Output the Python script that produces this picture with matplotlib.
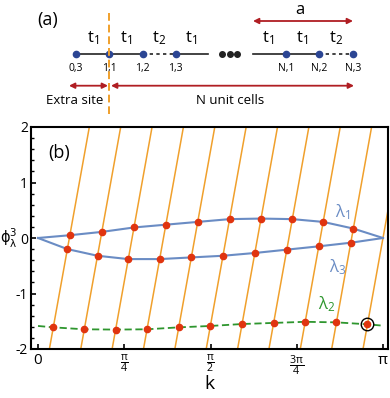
import numpy as np
import matplotlib
matplotlib.use('Agg')
import matplotlib.pyplot as plt

plt.rcParams['font.family'] = ['Open Sans', 'DejaVu Sans']
plt.rcParams['mathtext.fontset'] = 'custom'
plt.rcParams['mathtext.rm'] = 'Open Sans'
plt.rcParams['mathtext.it'] = 'Open Sans'
plt.rcParams['mathtext.sf'] = 'Open Sans'

# ---- data, panel (b) ----
N = 10
line_m = np.arange(1, 12)               # orange lines phi = (N+1)k - m*pi
lam1_m = np.arange(1, 11)
lam1_phi = [0.05, 0.11, 0.19, 0.24, 0.29, 0.34, 0.35, 0.34, 0.29, 0.17]
lam3_m = np.arange(1, 11)
lam3_phi = [-0.20, -0.32, -0.38, -0.38, -0.35, -0.32, -0.27, -0.21, -0.15, -0.085]
lam2_m = np.arange(1, 12)
lam2_phi = [-1.61, -1.645, -1.65, -1.645, -1.61, -1.585, -1.55, -1.53, -1.51, -1.52, -1.555]
lam1_ends = [0.0, 0.0]
lam3_ends = [0.0, 0.0]
lam2_ends = [-1.585, -1.58]

xticks = [0, np.pi / 4, np.pi / 2, 3 * np.pi / 4, np.pi]
xticklabels = ['0', r'$\frac{\pi}{4}$', r'$\frac{\pi}{2}$', r'$\frac{3\pi}{4}$', r'$\pi$']

# ---- schematic, panel (a) ----
site_x = [76, 109.3, 142.7, 175.7, 286, 319.3, 352.7]
site_lab = ['0,3', '1,1', '1,2', '1,3', 'N,1', 'N,2', 'N,3']
bond_x = [93, 126, 159, 191, 268, 302, 336]
bond_lab = ['t$_1$', 't$_1$', 't$_2$', 't$_1$', 't$_1$', 't$_1$', 't$_2$']

blue = '#6a8cc4'
orange = '#f0a02c'
red = '#e0340f'
green = '#2e962e'
navy = '#2b4593'
darkred = '#b01e23'


def k_of(m, phi):
    return (m * np.pi + np.asarray(phi)) / (N + 1)


fig = plt.figure(figsize=(3.9, 3.98), dpi=100)

# panel (a) drawn in pixel coords
axa = fig.add_axes([0, 0, 1, 1])
axa.set_xlim(0, 390)
axa.set_ylim(398, 0)
axa.axis('off')
axa.patch.set_alpha(0)

ys = 54.3
axa.plot([site_x[0], site_x[2]], [ys, ys], color='#222222', lw=1.2)
axa.plot([site_x[2], site_x[3]], [ys, ys], color='#222222', lw=1.2, ls=(0, (2, 2)))
axa.plot([site_x[3], 208], [ys, ys], color='#222222', lw=1.2)
axa.plot([253, site_x[5]], [ys, ys], color='#222222', lw=1.2)
axa.plot([site_x[5], site_x[6]], [ys, ys], color='#222222', lw=1.2, ls=(0, (2, 2)))
axa.plot([221.7, 229.5, 237.3], [ys, ys, ys], 'o', color='#222222', ms=4)
axa.plot(site_x, [ys] * len(site_x), 'o', color=navy, ms=4.5, zorder=3)
for x, s in zip(site_x, site_lab):
    axa.text(x, 69, s, ha='center', va='center', fontsize=7.5)
for x, s in zip(bond_x, bond_lab):
    axa.text(x, 38, s, ha='center', va='center', fontsize=12)
axa.plot([109.3, 109.3], [13, 114], color=orange, lw=1.4, ls=(0, (4, 2)), zorder=4)

arrow = dict(arrowstyle='<|-|>', color=darkred, lw=1.3, mutation_scale=8, shrinkA=0, shrinkB=0)
axa.annotate('', xy=(253, 21), xytext=(353, 21), arrowprops=arrow)
axa.annotate('', xy=(69, 85.7), xytext=(108, 85.7), arrowprops=arrow)
axa.annotate('', xy=(111, 85.7), xytext=(354, 85.7), arrowprops=arrow)
axa.text(300, 10, 'a', ha='center', va='center', fontsize=12)
axa.text(75, 101, 'Extra site', ha='center', va='center', fontsize=9.5)
axa.text(230, 101, 'N unit cells', ha='center', va='center', fontsize=9.5)
axa.text(48, 20, '(a)', ha='center', va='center', fontsize=13)
axa.text(0.5, 238, r'$\mathrm{\phi}_\mathrm{\lambda}^3$', ha='left', va='center',
         fontsize=10.5, math_fontfamily='dejavusans')
axa.text(209, 384, 'k', ha='center', va='center', fontsize=14)

# panel (b)
ax = fig.add_axes([31 / 390, 49 / 398, 357 / 390, 222 / 398])
x0 = -7 / 345 * np.pi
x1 = np.pi + 5 / 345 * np.pi
ax.set_xlim(x0, x1)
ax.set_ylim(-2, 2)

for m in line_m:
    ax.plot(k_of(m, np.array([-2.5, 2.5])), [-2.5, 2.5], color=orange, lw=1.1, zorder=1)

k1 = np.concatenate([[0], k_of(lam1_m, lam1_phi), [np.pi]])
p1 = np.concatenate([[lam1_ends[0]], lam1_phi, [lam1_ends[1]]])
k3 = np.concatenate([[0], k_of(lam3_m, lam3_phi), [np.pi]])
p3 = np.concatenate([[lam3_ends[0]], lam3_phi, [lam3_ends[1]]])
k2 = np.concatenate([[0], k_of(lam2_m, lam2_phi), [np.pi]])
p2 = np.concatenate([[lam2_ends[0]], lam2_phi, [lam2_ends[1]]])

ax.plot(k1, p1, color=blue, lw=1.5, zorder=2)
ax.plot(k3, p3, color=blue, lw=1.5, zorder=2)
ax.plot(k2, p2, color=green, lw=1.3, ls=(0, (4, 2)), zorder=2)

ax.plot(k1[1:-1], p1[1:-1], 'o', color=red, ms=4.5, zorder=3)
ax.plot(k3[1:-1], p3[1:-1], 'o', color=red, ms=4.5, zorder=3)
ax.plot(k2[1:-1], p2[1:-1], 'o', color=red, ms=4.5, zorder=3)
ax.plot(k2[-2], p2[-2], 'o', mfc='none', mec='black', ms=9, mew=1.0, zorder=4)

ax.text(2.77, 0.47, r'$\lambda_1$', color=blue, fontsize=12, ha='center', va='center')
ax.text(2.73, -0.52, r'$\lambda_3$', color=blue, fontsize=12, ha='center', va='center')
ax.text(2.63, -1.20, r'$\lambda_2$', color=green, fontsize=12, ha='center', va='center')
ax.text(0.09, 1.53, '(b)', fontsize=13, ha='left', va='center')

ax.set_xticks(xticks)
ax.set_xticklabels(xticklabels, fontsize=11)
ax.set_yticks([-2, -1, 0, 1, 2])
ax.set_yticklabels(['-2', '-1', '0', '1', '2'], fontsize=10)
ax.set_yticks(np.arange(-2, 2.01, 0.2), minor=True)
ax.tick_params(direction='in', length=3.5, width=1.2, pad=3)
ax.tick_params(axis='y', pad=2)
ax.tick_params(which='minor', direction='in', length=2.5, width=1.0)
for sp in ax.spines.values():
    sp.set_linewidth(1.5)

fig.savefig('out.png', dpi=100)
